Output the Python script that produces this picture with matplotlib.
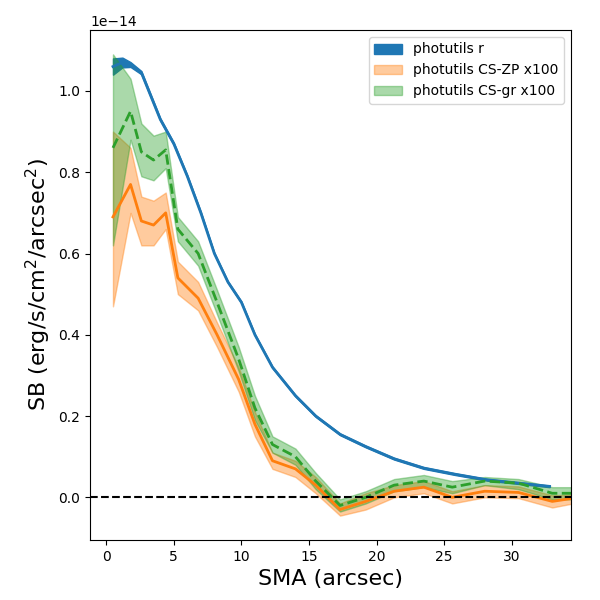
import numpy as np
import matplotlib
matplotlib.use('Agg')
from matplotlib import pyplot as plt

# photutils r profile (units of 1e-14)
sma_r = np.array([0.5, 1.2, 1.8, 2.6, 4.0, 5.0, 6.0, 7.0, 8.0, 9.0, 10.0, 11.0, 12.3, 14.0, 15.5, 17.3, 19.2, 21.3, 23.5, 25.8, 28.2, 30.5, 32.8])
blue = np.array([1.06, 1.07, 1.065, 1.045, 0.93, 0.87, 0.79, 0.70, 0.60, 0.53, 0.48, 0.40, 0.32, 0.25, 0.20, 0.155, 0.125, 0.095, 0.072, 0.057, 0.043, 0.035, 0.027])
blue_err = np.array([0.02, 0.012, 0.006, 0.004, 0.003, 0.003, 0.003, 0.003, 0.002, 0.002, 0.002, 0.002, 0.002, 0.002, 0.002, 0.002, 0.002, 0.002, 0.002, 0.002, 0.002, 0.002, 0.002])

# color-scaled profiles x100
sma = np.array([0.5, 1.8, 2.6, 3.5, 4.4, 5.3, 6.8, 8.2, 9.8, 11.0, 12.3, 14.0, 15.5, 17.3, 19.2, 21.3, 23.5, 25.6, 28.0, 30.5, 33.0, 35.0])
zp = np.array([0.69, 0.77, 0.68, 0.67, 0.70, 0.54, 0.49, 0.40, 0.29, 0.18, 0.09, 0.07, 0.03, -0.03, -0.01, 0.015, 0.025, 0.0, 0.015, 0.012, -0.01, 0.0])
zp_lo = np.array([0.47, 0.70, 0.62, 0.62, 0.66, 0.50, 0.46, 0.37, 0.26, 0.15, 0.07, 0.05, 0.01, -0.045, -0.03, 0.0, 0.01, -0.015, 0.0, -0.002, -0.025, -0.012])
zp_hi = np.array([0.90, 0.86, 0.74, 0.73, 0.75, 0.58, 0.53, 0.43, 0.32, 0.21, 0.11, 0.09, 0.05, -0.015, 0.01, 0.03, 0.04, 0.015, 0.03, 0.027, 0.005, 0.008])

gr = np.array([0.86, 0.95, 0.85, 0.83, 0.855, 0.66, 0.60, 0.48, 0.34, 0.22, 0.13, 0.10, 0.04, -0.02, 0.0, 0.03, 0.04, 0.025, 0.04, 0.035, 0.01, 0.01])
gr_lo = np.array([0.62, 0.88, 0.79, 0.78, 0.81, 0.63, 0.57, 0.45, 0.31, 0.19, 0.11, 0.08, 0.02, -0.035, -0.015, 0.015, 0.025, 0.01, 0.03, 0.02, -0.005, -0.005])
gr_hi = np.array([1.09, 1.03, 0.92, 0.89, 0.90, 0.69, 0.63, 0.51, 0.37, 0.25, 0.15, 0.12, 0.06, -0.005, 0.015, 0.045, 0.055, 0.04, 0.05, 0.045, 0.025, 0.025])

s = 1e-14
fig, ax = plt.subplots(figsize=(6, 6), dpi=100)
ax.fill_between(sma_r, (blue - blue_err) * s, (blue + blue_err) * s, color='C0', label='photutils r')
ax.plot(sma_r, blue * s, color='C0', lw=2)
ax.fill_between(sma, zp_lo * s, zp_hi * s, color='C1', alpha=0.4, label='photutils CS-ZP x100')
ax.plot(sma, zp * s, color='C1', lw=2)
ax.fill_between(sma, gr_lo * s, gr_hi * s, color='C2', alpha=0.4, label='photutils CS-gr x100')
ax.plot(sma, gr * s, color='C2', lw=2, ls='--')
ax.axhline(0, color='k', ls='--')
ax.set_xlim(-1.2, 34.4)
ax.set_ylim(-0.105e-14, 1.15e-14)
ax.set_xlabel('SMA (arcsec)', fontsize=16)
ax.set_ylabel('SB (erg/s/cm$^2$/arcsec$^2$)', fontsize=16)
ax.legend(loc='upper right')
fig.subplots_adjust(left=0.15, right=0.952, top=0.95, bottom=0.10)
fig.savefig('out.png')
